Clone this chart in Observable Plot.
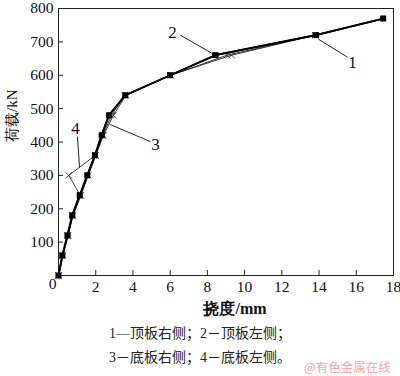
<!DOCTYPE html>
<html><head><meta charset="utf-8">
<script src="https://cdn.jsdelivr.net/npm/d3@7"></script>
<script src="https://cdn.jsdelivr.net/npm/@observablehq/plot@0.6"></script>
<style>
body{margin:0;background:#fff;}
#wrap{position:relative;width:400px;height:376px;overflow:hidden;}
#chart svg text{font-family:'Liberation Serif','Times New Roman',serif;}
#chart svg text.cjk{font-family:'Noto Sans CJK SC',sans-serif;}
.cap{position:absolute;left:0;width:400px;text-align:center;font-family:'Liberation Serif','Noto Sans CJK SC',serif;font-size:14px;color:#222;line-height:1;}
#wm{position:absolute;left:304px;top:361px;font-family:'Noto Sans CJK SC',sans-serif;font-size:12.5px;color:#f2a9a9;line-height:1;}
</style></head>
<body><div id="wrap"><div id="chart"></div>
<div class="cap" style="top:327px">1—顶板右侧；2－顶板左侧；</div>
<div class="cap" style="top:351px">3－底板右侧；4－底板左侧。</div>
<div id="wm">@有色金属在线</div>
</div>
<script>
const load = [0,60,120,180,240,300,360,420,480,540,600,660,720,770];
const s1 = [0,0.2,0.47,0.73,1.13,1.54,1.95,2.31,2.7,3.58,6.0,8.4,13.8,17.45];
const s2 = [0,0.22,0.5,0.75,1.15,1.56,1.97,2.33,2.72,3.6,6.0,8.45,13.85,17.45];
const s3 = [0,0.22,0.5,0.78,1.2,1.6,2.0,2.42,2.95,3.62,6.0,9.3,13.8];
const s4 = [0,0.2,0.48,0.76,1.17,0.55,1.98,2.38,2.85,3.55,6.05,9.05,13.8];
const xTicks = [2,4,6,8,10,12,14,16,18];
const yTicks = [100,200,300,400,500,600,700,800];
const labels = ["1","2","3","4"];
const labelX = [15.8,6.13,5.21,0.91];
const labelY = [639,729,393,440];
const leadX1 = [15.53,6.55,4.94,1.02], leadY1 = [654,720,401,416];
const leadX2 = [13.97,8.33,2.79,1.13], leadY2 = [708,663,452,324];

const mk = (xs, name) => xs.map((x,i)=>({x, y: load[i], s: name}));
const d1 = mk(s1,"1"), d2 = mk(s2,"2"), d3 = mk(s3,"3"), d4 = mk(s4,"4");
const lab = labels.map((t,i)=>({t, x: labelX[i], y: labelY[i], x1: leadX1[i], y1: leadY1[i], x2: leadX2[i], y2: leadY2[i]}));

const chart = Plot.plot({
  width: 400, height: 322,
  marginLeft: 58, marginRight: 7, marginTop: 8, marginBottom: 47,
  style: {fontSize: "15px", color: "#111", background: "#fff", overflow: "visible"},
  x: {domain: [0,18]},
  y: {domain: [0,800]},
  marks: [
    Plot.frame({stroke: "#222", strokeWidth: 1}),
    Plot.axisX(xTicks, {tickSize: 0, tickPadding: 5, fontSize: 15.5, label: null}),
    Plot.axisY(yTicks, {tickSize: 0, tickPadding: 5, fontSize: 15.5, label: null}),
    Plot.tickX(xTicks, {x: d=>d, insetTop: 262, stroke: "#222"}),
    Plot.tickY(yTicks, {y: d=>d, insetRight: 330, stroke: "#222"}),
    Plot.text([0], {x: 0, y: 0, text: d=>"0", dx: -6, dy: 9, fontSize: 15.5}),
    Plot.line(d4, {x: "x", y: "y", stroke: "#222", strokeWidth: 0.9}),
    Plot.line(d3, {x: "x", y: "y", stroke: "#222", strokeWidth: 0.9}),
    Plot.dot(d4, {x: "x", y: "y", symbol: "times", r: 3, stroke: "#333", strokeWidth: 0.8}),
    Plot.dot(d3, {x: "x", y: "y", symbol: "times", r: 3, stroke: "#333", strokeWidth: 0.8}),
    Plot.line(d2, {x: "x", y: "y", stroke: "#000", strokeWidth: 1.8}),
    Plot.line(d1, {x: "x", y: "y", stroke: "#000", strokeWidth: 1.8}),
    Plot.dot(d2, {x: "x", y: "y", symbol: "square", r: 3.2, fill: "#000"}),
    Plot.dot(d1, {x: "x", y: "y", symbol: "square", r: 3.2, fill: "#000"}),
    Plot.link(lab, {x1: "x1", y1: "y1", x2: "x2", y2: "y2", stroke: "#222", strokeWidth: 1}),
    Plot.text(lab, {x: "x", y: "y", text: "t", fontSize: 17, fill: "#111"}),
    Plot.text(["挠度/mm"], {frameAnchor: "bottom", text: d=>d, dy: 38, dx: 9, fontSize: 16, fontWeight: "bold", className: "cjk"}),
    Plot.text(["荷载/kN"], {frameAnchor: "left", text: d=>d, rotate: -90, dx: -46, fontSize: 15, className: "cjk"})
  ]
});
document.getElementById("chart").appendChild(chart);
</script></body></html>
